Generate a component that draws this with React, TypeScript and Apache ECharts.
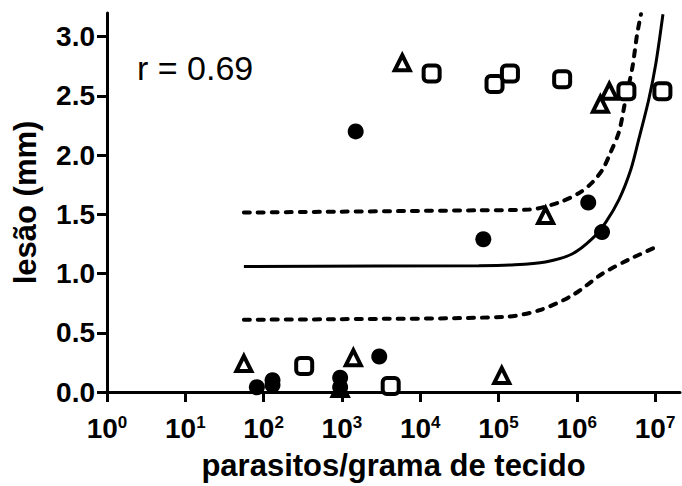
import React, { useEffect, useRef } from "react";
import * as echarts from "echarts";

// Filled circles
const circleX = [82, 130, 130, 950, 950, 3000, 1500, 64000, 1.4e6, 2.1e6];
const circleY = [0.04, 0.1, 0.06, 0.12, 0.04, 0.3, 2.2, 1.29, 1.6, 1.35];
// Open triangles
const triX = [56, 950, 1400, 1.1e5, 5900, 4e5, 2e6, 2.6e6];
const triY = [0.24, 0.03, 0.29, 0.14, 2.78, 1.49, 2.43, 2.54];
// Open squares
const sqX = [330, 4200, 1.4e4, 8.9e4, 1.4e5, 6.5e5, 4.3e6, 1.24e7];
const sqY = [0.22, 0.05, 2.69, 2.6, 2.69, 2.64, 2.54, 2.54];

// Regression line
const fitX = [56, 5.6e4, 1.48e5, 3.98e5, 8.7e5, 1.55e6, 2.34e6, 3.47e6, 4.9e6, 6.17e6, 8.3e6, 1.02e7, 1.26e7];
const fitY = [1.06, 1.067, 1.073, 1.098, 1.165, 1.29, 1.433, 1.626, 1.878, 2.13, 2.47, 2.77, 3.19];
// Upper 95% band
const upX = [56, 5.6e4, 2.45e5, 5.9e5, 1.07e6, 1.58e6, 2.14e6, 2.69e6, 3.47e6, 4.17e6, 5.13e6, 5.89e6, 6.6e6];
const upY = [1.515, 1.534, 1.54, 1.6, 1.68, 1.77, 1.88, 2.02, 2.2, 2.46, 2.74, 3.02, 3.19];
// Lower 95% band
const loX = [56, 912, 1.23e5, 3.3e5, 8.7e5, 2.14e6, 4.68e6, 1.12e7];
const loY = [0.61, 0.615, 0.635, 0.69, 0.815, 1.0, 1.12, 1.235];

const xTicks = [1, 10, 100, 1000, 1e4, 1e5, 1e6, 1e7];
const yTicks = [0, 0.5, 1, 1.5, 2, 2.5, 3];

const FONT = '"Liberation Sans", Arial, sans-serif';

const zip = (xs: number[], ys: number[]) => xs.map((x, i) => [x, ys[i]]);

export default function App() {
  const ref = useRef<HTMLDivElement>(null);
  useEffect(() => {
    if (!ref.current) return;
    const chart = echarts.init(ref.current, null, { renderer: "svg" });
    const dashed = { color: "#000", width: 4, type: [6, 8], cap: "round" };
    const option: any = {
      animation: false,
      backgroundColor: "#fff",
      grid: { left: 107, right: 2, top: 13, bottom: 92, containLabel: false },
      xAxis: {
        type: "log",
        logBase: 10,
        min: 1,
        max: 2.08e7,
        axisLine: { show: true, lineStyle: { color: "#000", width: 3 } },
        axisTick: { show: true, length: 10, customValues: xTicks, lineStyle: { color: "#000", width: 3 } },
        minorTick: { show: false },
        splitLine: { show: false },
        axisLabel: {
          customValues: xTicks,
          margin: 22,
          color: "#000",
          formatter: (v: number) => `{b|10}{s|${Math.round(Math.log10(v))}}`,
          rich: {
            b: { fontSize: 28, fontWeight: "bold", fontFamily: FONT, color: "#000", lineHeight: 28 },
            s: { fontSize: 17, fontWeight: "bold", fontFamily: FONT, color: "#000", lineHeight: 17, verticalAlign: "top" },
          },
        },
        name: "parasitos/grama de tecido",
        nameLocation: "middle",
        nameGap: 58,
        nameTextStyle: { fontSize: 31, fontWeight: "bold", fontFamily: FONT, color: "#000" },
      },
      yAxis: {
        type: "value",
        min: 0,
        max: 3.2,
        interval: 0.5,
        axisLine: { show: true, lineStyle: { color: "#000", width: 3 } },
        axisTick: { show: true, length: 10, customValues: yTicks, lineStyle: { color: "#000", width: 3 } },
        splitLine: { show: false },
        axisLabel: {
          customValues: yTicks,
          margin: 12,
          color: "#000",
          fontSize: 28,
          fontWeight: "bold",
          fontFamily: FONT,
          formatter: (v: number) => v.toFixed(1),
        },
        name: "lesão (mm)",
        nameLocation: "middle",
        nameGap: 66,
        nameTextStyle: { fontSize: 31, fontWeight: "bold", fontFamily: FONT, color: "#000" },
      },
      graphic: [
        {
          type: "text",
          left: 137,
          top: 51,
          style: { text: "r = 0.69", font: `34px ${FONT}`, fill: "#000" },
        },
      ],
      series: [
        { type: "line", data: zip(fitX, fitY), smooth: 0.3, showSymbol: false, lineStyle: { color: "#000", width: 3 }, z: 1 },
        { type: "line", data: zip(upX, upY), smooth: 0.3, showSymbol: false, lineStyle: dashed, z: 1 },
        { type: "line", data: zip(loX, loY), smooth: 0.3, showSymbol: false, lineStyle: dashed, z: 1 },
        {
          type: "scatter",
          data: zip(triX, triY),
          symbol: "triangle",
          symbolSize: 15,
          itemStyle: { color: "#fff", borderColor: "#000", borderWidth: 4, opacity: 1 },
          z: 3,
        },
        {
          type: "scatter",
          data: zip(sqX, sqY),
          symbol: "roundRect",
          symbolSize: 16,
          itemStyle: { color: "#fff", borderColor: "#000", borderWidth: 4, opacity: 1 },
          z: 3,
        },
        {
          type: "scatter",
          data: zip(circleX, circleY),
          symbol: "circle",
          symbolSize: 16,
          itemStyle: { color: "#000", opacity: 1 },
          z: 4,
        },
      ],
    };
    chart.setOption(option);
    return () => chart.dispose();
  }, []);
  return <div ref={ref} style={{ width: 682, height: 486, position: "absolute", left: 0, top: 0 }} />;
}
